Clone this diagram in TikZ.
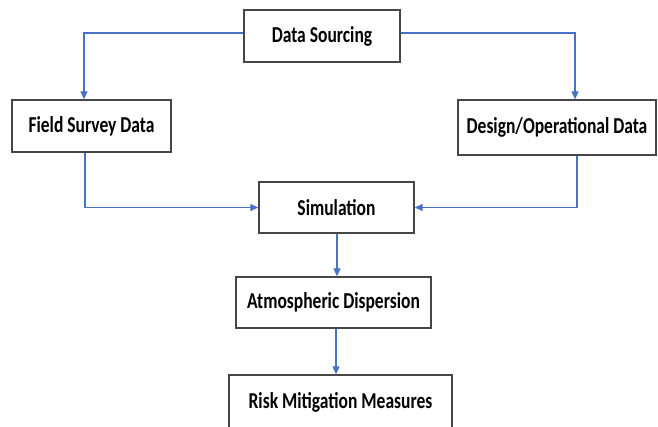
\documentclass[tikz,border=0pt]{standalone}
\usepackage{fontspec}
\usepackage{graphicx}
\setmainfont{Carlito}
\usetikzlibrary{arrows.meta}
\definecolor{linkblue}{RGB}{72,114,196}
\definecolor{boxgray}{RGB}{70,70,70}
\newcommand{\tall}[1]{\scalebox{1}[1.3]{#1}}
\begin{document}
\begin{tikzpicture}[x=1pt, y=-1pt,
	box/.style = {draw=boxgray, line width=1.3pt, fill=white, inner sep=0pt, font=\fontsize{17.5}{20}\selectfont\bfseries},
	link/.style = {draw=linkblue, line width=1.2pt, -{Triangle[width=7pt,length=8pt]}}]
				\useasboundingbox (0,0) rectangle (658,427);
				\clip (0,0) rectangle (658,427);
				\node[box, minimum width=156, minimum height=52] (src) at (322,36) {\tall{Data Sourcing}};
				\node[box, minimum width=159, minimum height=52] (field) at (91.5,126) {\tall{Field Survey Data}};
				\node[box, minimum width=198, minimum height=55] (design) at (557,127.5) {\tall{Design/Operational Data}};
				\node[box, minimum width=155, minimum height=51] (sim) at (336.5,207.5) {\tall{Simulation}};
				\node[box, minimum width=195, minimum height=51] (atm) at (333.5,302.5) {\tall{Atmospheric Dispersion}};
				\node[box, minimum width=223, minimum height=54] (risk) at (340.5,402) {\tall{Risk Mitigation Measures}};

				\draw[link] ([yshift=3]src.west) -| ([xshift=-7.5]field.north);
				\draw[link] ([yshift=3]src.east) -| ([xshift=18]design.north);
				\draw[link] ([xshift=-6.5]field.south) |- (sim.west);
				\draw[link] ([xshift=20]design.south) |- (sim.east);
				\draw[link] ([xshift=0.5]sim.south) -- ([xshift=3.5]atm.north);
				\draw[link] ([xshift=2.5]atm.south) -- ([xshift=-4.5]risk.north);
			\end{tikzpicture}
\end{document}
